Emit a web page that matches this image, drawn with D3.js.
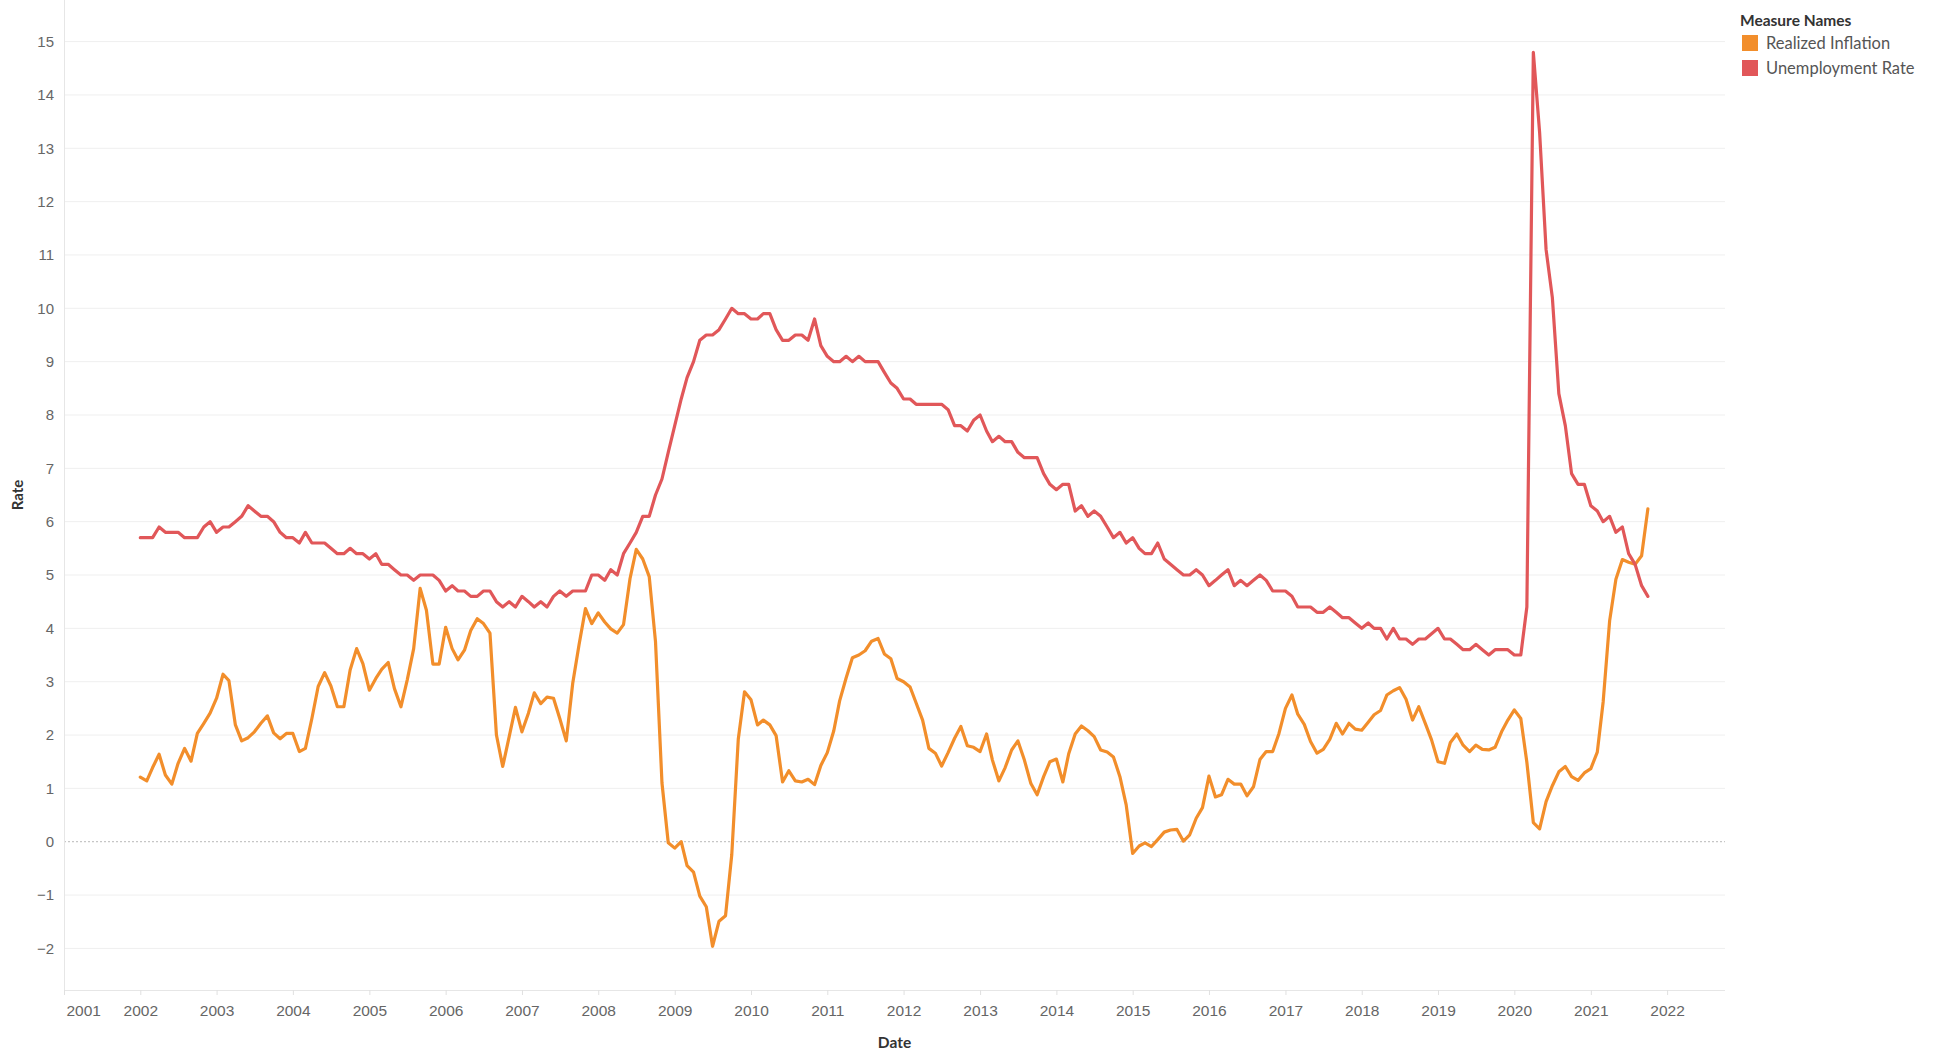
<!DOCTYPE html>
<html><head><meta charset="utf-8">
<script src="https://cdn.jsdelivr.net/npm/d3@7"></script>
<style>
body{margin:0;background:#fff;}
svg{display:block;font-family:Lato,"Open Sans",sans-serif;}
</style>
</head><body>
<svg id="chart" width="1936" height="1052"></svg>
<script>
// ---------- DATA ----------
const firstYear = 2002; // monthly series start Jan 2002
const xTickYears = d3.range(2001, 2023);
const yTickValues = d3.range(-2, 16);
const seriesNames = ["Realized Inflation", "Unemployment Rate"];

const realizedInflation = [
  1.21,1.14,1.39,1.64,1.25,1.08,1.47,1.75,1.51,2.03,2.22,2.41,
  2.69,3.14,3.02,2.19,1.89,1.95,2.06,2.22,2.36,2.04,1.93,2.03,
  2.03,1.69,1.75,2.31,2.91,3.17,2.92,2.53,2.53,3.22,3.62,3.34,
  2.84,3.06,3.23,3.36,2.87,2.53,3.03,3.62,4.75,4.34,3.33,3.33,
  4.02,3.62,3.41,3.59,3.96,4.18,4.09,3.91,2.00,1.41,1.97,2.52,
  2.06,2.41,2.79,2.59,2.71,2.69,2.31,1.89,2.97,3.69,4.37,4.09,
  4.29,4.12,3.99,3.91,4.07,4.93,5.48,5.30,4.97,3.75,1.10,-0.02,
  -0.12,0.00,-0.45,-0.57,-1.02,-1.22,-1.96,-1.49,-1.39,-0.24,1.92,2.81,
  2.66,2.19,2.28,2.19,1.99,1.12,1.33,1.14,1.12,1.17,1.07,1.43,
  1.67,2.08,2.64,3.07,3.45,3.50,3.58,3.76,3.81,3.52,3.43,3.06,
  3.00,2.90,2.60,2.28,1.75,1.66,1.42,1.67,1.94,2.16,1.80,1.77,
  1.69,2.02,1.53,1.14,1.39,1.72,1.89,1.53,1.09,0.88,1.22,1.50,
  1.55,1.12,1.65,2.02,2.17,2.08,1.97,1.72,1.68,1.59,1.22,0.69,
  -0.22,-0.08,-0.02,-0.09,0.04,0.18,0.22,0.23,0.01,0.13,0.44,0.64,
  1.23,0.84,0.88,1.17,1.08,1.08,0.86,1.03,1.54,1.69,1.69,2.03,
  2.50,2.75,2.39,2.20,1.88,1.66,1.73,1.92,2.22,2.02,2.22,2.11,
  2.09,2.24,2.38,2.46,2.75,2.83,2.89,2.67,2.28,2.53,2.22,1.91,
  1.50,1.47,1.86,2.02,1.81,1.69,1.81,1.73,1.72,1.77,2.06,2.28,
  2.47,2.31,1.49,0.36,0.24,0.75,1.05,1.31,1.41,1.22,1.15,1.29,
  1.37,1.68,2.62,4.14,4.92,5.29,5.24,5.20,5.36,6.24
];

const unemploymentRate = [
  5.7,5.7,5.7,5.9,5.8,5.8,5.8,5.7,5.7,5.7,5.9,6.0,
  5.8,5.9,5.9,6.0,6.1,6.3,6.2,6.1,6.1,6.0,5.8,5.7,
  5.7,5.6,5.8,5.6,5.6,5.6,5.5,5.4,5.4,5.5,5.4,5.4,
  5.3,5.4,5.2,5.2,5.1,5.0,5.0,4.9,5.0,5.0,5.0,4.9,
  4.7,4.8,4.7,4.7,4.6,4.6,4.7,4.7,4.5,4.4,4.5,4.4,
  4.6,4.5,4.4,4.5,4.4,4.6,4.7,4.6,4.7,4.7,4.7,5.0,
  5.0,4.9,5.1,5.0,5.4,5.6,5.8,6.1,6.1,6.5,6.8,7.3,
  7.8,8.3,8.7,9.0,9.4,9.5,9.5,9.6,9.8,10.0,9.9,9.9,
  9.8,9.8,9.9,9.9,9.6,9.4,9.4,9.5,9.5,9.4,9.8,9.3,
  9.1,9.0,9.0,9.1,9.0,9.1,9.0,9.0,9.0,8.8,8.6,8.5,
  8.3,8.3,8.2,8.2,8.2,8.2,8.2,8.1,7.8,7.8,7.7,7.9,
  8.0,7.7,7.5,7.6,7.5,7.5,7.3,7.2,7.2,7.2,6.9,6.7,
  6.6,6.7,6.7,6.2,6.3,6.1,6.2,6.1,5.9,5.7,5.8,5.6,
  5.7,5.5,5.4,5.4,5.6,5.3,5.2,5.1,5.0,5.0,5.1,5.0,
  4.8,4.9,5.0,5.1,4.8,4.9,4.8,4.9,5.0,4.9,4.7,4.7,
  4.7,4.6,4.4,4.4,4.4,4.3,4.3,4.4,4.3,4.2,4.2,4.1,
  4.0,4.1,4.0,4.0,3.8,4.0,3.8,3.8,3.7,3.8,3.8,3.9,
  4.0,3.8,3.8,3.7,3.6,3.6,3.7,3.6,3.5,3.6,3.6,3.6,
  3.5,3.5,4.4,14.8,13.3,11.1,10.2,8.4,7.8,6.9,6.7,6.7,
  6.3,6.2,6.0,6.1,5.8,5.9,5.4,5.2,4.8,4.6
];

// ---------- STYLE ----------
const colors = {"Realized Inflation":"#F28E2B","Unemployment Rate":"#E15759"};
const plot = {left:64, right:1725, top:0, bottom:990};

const svg = d3.select("#chart");

const x = d3.scaleTime()
  .domain([new Date(2001,0,1), new Date(2022,9,5)])
  .range([plot.left, plot.right]);
const y = d3.scaleLinear()
  .domain([-2.78, 15.78])
  .range([plot.bottom, plot.top]);

const dates = realizedInflation.map((_, i) => new Date(firstYear, i, 1));
const series = [
  {name:"Realized Inflation", values: realizedInflation.map((v,i)=>({date:dates[i], v}))},
  {name:"Unemployment Rate", values: unemploymentRate.map((v,i)=>({date:dates[i], v}))}
];

// gridlines
svg.append("g").selectAll("line")
  .data(yTickValues.filter(d => d !== 0))
  .join("line")
  .attr("x1", plot.left).attr("x2", plot.right)
  .attr("y1", d => y(d)).attr("y2", d => y(d))
  .attr("stroke", "#efefef").attr("stroke-width", 1);

// zero line
svg.append("line")
  .attr("x1", plot.left).attr("x2", plot.right)
  .attr("y1", y(0)).attr("y2", y(0))
  .attr("stroke", "#b8b8b8").attr("stroke-width", 1)
  .attr("stroke-dasharray", "2,2");

// plot borders
svg.append("line").attr("x1", plot.left+0.5).attr("x2", plot.left+0.5)
  .attr("y1", plot.top).attr("y2", plot.bottom).attr("stroke", "#e6e6e6");
svg.append("line").attr("x1", plot.left).attr("x2", plot.right)
  .attr("y1", plot.bottom+0.5).attr("y2", plot.bottom+0.5).attr("stroke", "#e6e6e6");

// y axis
const yAxis = svg.append("g")
  .attr("transform", `translate(${plot.left},0)`)
  .call(d3.axisLeft(y).tickValues(yTickValues).tickSize(0).tickPadding(10).tickFormat(d3.format("d")));
yAxis.select(".domain").remove();
yAxis.selectAll("text").attr("fill", "#666").attr("font-size", 15);

// x axis
const xAxis = svg.append("g")
  .attr("transform", `translate(0,${plot.bottom})`)
  .call(d3.axisBottom(x)
    .tickValues(xTickYears.map(yr => new Date(yr,0,1)))
    .tickSize(5).tickPadding(10)
    .tickFormat(d3.timeFormat("%Y")));
xAxis.select(".domain").remove();
xAxis.selectAll("line").attr("stroke", "#e0e0e0");
xAxis.selectAll("text").attr("fill", "#666").attr("font-size", 15.5);
xAxis.selectAll("text").filter(d => d.getFullYear() === 2001)
  .attr("text-anchor", "start").attr("x", 2);

// axis titles
svg.append("text")
  .attr("transform", `translate(23,${(plot.top+plot.bottom)/2}) rotate(-90)`)
  .attr("text-anchor", "middle")
  .attr("font-size", 15).attr("font-weight", "bold").attr("fill", "#333")
  .text("Rate");
svg.append("text")
  .attr("x", (plot.left+plot.right)/2).attr("y", 1048)
  .attr("text-anchor", "middle")
  .attr("font-size", 15.5).attr("font-weight", "bold").attr("fill", "#333")
  .text("Date");

// lines
const line = d3.line().x(d => x(d.date)).y(d => y(d.v));
svg.append("g").selectAll("path")
  .data(series)
  .join("path")
  .attr("d", d => line(d.values))
  .attr("fill", "none")
  .attr("stroke", d => colors[d.name])
  .attr("stroke-width", 3.2)
  .attr("stroke-linejoin", "round")
  .attr("stroke-linecap", "round");

// legend
const lg = svg.append("g").attr("transform", "translate(1740,0)");
lg.append("text").attr("x", 0).attr("y", 26)
  .attr("font-size", 15.5).attr("font-weight", "bold").attr("fill", "#333")
  .text("Measure Names");
const items = lg.selectAll("g.item").data(seriesNames).join("g")
  .attr("class", "item")
  .attr("transform", (d,i) => `translate(0,${35 + i*25})`);
items.append("rect").attr("x", 2).attr("y", 0).attr("width", 16).attr("height", 16)
  .attr("fill", d => colors[d]);
items.append("text").attr("x", 26).attr("y", 13.5)
  .attr("font-size", 16.5).attr("fill", "#555")
  .text(d => d);
</script>
</body></html>
